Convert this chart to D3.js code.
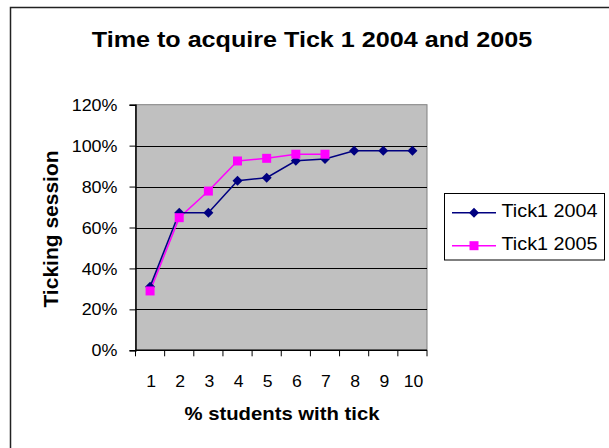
<!DOCTYPE html>
<html>
<head>
<meta charset="utf-8">
<script src="https://cdn.jsdelivr.net/npm/d3@7"></script>
<style>
  html, body { margin: 0; padding: 0; background: #ffffff; }
  svg { display: block; }
  text { font-family: "Liberation Sans", Arial, Helvetica, sans-serif; fill: #000; }
</style>
</head>
<body>
<svg id="chart" width="609" height="448"></svg>
<script>
// Categories along the x axis
const categories = [1, 2, 3, 4, 5, 6, 7, 8, 9, 10];
// Share of students holding a tick, per ticking session
const tick2004 = [0.311, 0.672, 0.672, 0.829, 0.843, 0.926, 0.935, 0.975, 0.975, 0.975];
const tick2005 = [0.290, 0.648, 0.778, 0.925, 0.938, 0.958, 0.958];
const yTicks = [0, 0.2, 0.4, 0.6, 0.8, 1.0, 1.2];
const seriesNames = ["Tick1 2004", "Tick1 2005"];

const svg = d3.select("#chart");

// Text is drawn slightly widened horizontally
function placeText(sel, x, y, sx) {
  return sel.attr("x", 0).attr("y", 0)
    .attr("transform", `translate(${x},${y}) scale(${sx},1)`);
}

// Outer chart frame
svg.append("rect")
  .attr("x", 10.5).attr("y", 7.5)
  .attr("width", 620).attr("height", 460)
  .attr("fill", "none").attr("stroke", "#222").attr("stroke-width", 1.5);

const plot = { left: 135.5, right: 427, top: 104.7, bottom: 350.3 };

const x = d3.scaleBand().domain(categories).range([plot.left, plot.right]).padding(0);
const y = d3.scaleLinear().domain([0, 1.2]).range([plot.bottom, plot.top]);

// Plot area
svg.append("rect")
  .attr("x", plot.left).attr("y", plot.top)
  .attr("width", plot.right - plot.left).attr("height", plot.bottom - plot.top)
  .attr("fill", "#c0c0c0").attr("stroke", "#808080").attr("stroke-width", 1);

// Horizontal gridlines
svg.append("g").selectAll("line")
  .data(yTicks.filter(v => v > 0 && v < 1.2))
  .join("line")
  .attr("x1", plot.left).attr("x2", plot.right)
  .attr("y1", d => Math.round(y(d)) + 0.5).attr("y2", d => Math.round(y(d)) + 0.5)
  .attr("stroke", "#000").attr("stroke-width", 1);

// Y axis
const yAxis = svg.append("g")
  .attr("transform", `translate(${plot.left},0)`)
  .call(d3.axisLeft(y).tickValues(yTicks).tickFormat(d3.format(".0%")).tickSize(6).tickPadding(0));
yAxis.select(".domain").attr("stroke", "#000").attr("stroke-width", 1.5);
yAxis.selectAll(".tick line").attr("stroke", "#000");
yAxis.selectAll(".tick text")
  .attr("font-size", 16).attr("font-family", null).attr("dy", null)
  .attr("text-anchor", "end")
  .each(function () { placeText(d3.select(this), -18, 5.6, 1.12); });

// X axis: ticks on the category boundaries, labels at centres
const xAxisG = svg.append("g").attr("transform", `translate(0,${plot.bottom})`);
xAxisG.append("line")
  .attr("x1", plot.left).attr("x2", plot.right)
  .attr("stroke", "#000").attr("stroke-width", 1.5);
const boundaries = categories.map(c => x(c)).concat([plot.right]);
xAxisG.selectAll("line.tk").data(boundaries).join("line").attr("class", "tk")
  .attr("x1", d => d).attr("x2", d => d).attr("y1", 0).attr("y2", 6)
  .attr("stroke", "#000");
xAxisG.selectAll("text").data(categories).join("text")
  .attr("font-size", 16).attr("text-anchor", "middle")
  .each(function (d) { placeText(d3.select(this), x(d) + x.bandwidth() / 2 + 1, 36.4, 1.1); })
  .text(d => d);

// Series lines and markers
const line = d3.line()
  .x((d, i) => x(categories[i]) + x.bandwidth() / 2)
  .y(d => y(d));

svg.append("path").datum(tick2005)
  .attr("d", line).attr("fill", "none").attr("stroke", "#ff00ff").attr("stroke-width", 1.5);
svg.append("path").datum(tick2004)
  .attr("d", line).attr("fill", "none").attr("stroke", "#000080").attr("stroke-width", 1.5);

const diamond = "M0,-5L5,0L0,5L-5,0Z";
const square = "M-4.5,-4.5H4.5V4.5H-4.5Z";

svg.append("g").selectAll("path").data(tick2004).join("path")
  .attr("d", diamond).attr("fill", "#000080")
  .attr("transform", (d, i) => `translate(${x(categories[i]) + x.bandwidth() / 2},${y(d)})`);
svg.append("g").selectAll("path").data(tick2005).join("path")
  .attr("d", square).attr("fill", "#ff00ff")
  .attr("transform", (d, i) => `translate(${x(categories[i]) + x.bandwidth() / 2},${y(d)})`);

// Title
placeText(svg.append("text"), 312, 47, 1.17)
  .attr("text-anchor", "middle").attr("font-size", 21.5).attr("font-weight", "bold")
  .text("Time to acquire Tick 1 2004 and 2005");

// Axis titles
placeText(svg.append("text"), 282, 419.5, 1.16)
  .attr("text-anchor", "middle").attr("font-size", 17.5).attr("font-weight", "bold")
  .text("% students with tick");
svg.append("text")
  .attr("transform", `translate(58,229) rotate(-90)`)
  .attr("text-anchor", "middle").attr("font-size", 21).attr("font-weight", "bold")
  .text("Ticking session");

// Legend
const legend = svg.append("g");
legend.append("rect")
  .attr("x", 444.5).attr("y", 193.5).attr("width", 160).attr("height", 66.5)
  .attr("fill", "#fff").attr("stroke", "#000").attr("stroke-width", 1);
const legendItems = [
  { name: seriesNames[0], color: "#000080", shape: diamond, cy: 212.7 },
  { name: seriesNames[1], color: "#ff00ff", shape: square, cy: 245.7 }
];
legendItems.forEach(it => {
  legend.append("line")
    .attr("x1", 452).attr("x2", 496).attr("y1", it.cy).attr("y2", it.cy)
    .attr("stroke", it.color).attr("stroke-width", 1.5);
  legend.append("path").attr("d", it.shape).attr("fill", it.color)
    .attr("transform", `translate(474,${it.cy})`);
  placeText(legend.append("text"), 501.5, it.cy + 4, 1.07)
    .attr("font-size", 18.5).text(it.name);
});
</script>
</body>
</html>
